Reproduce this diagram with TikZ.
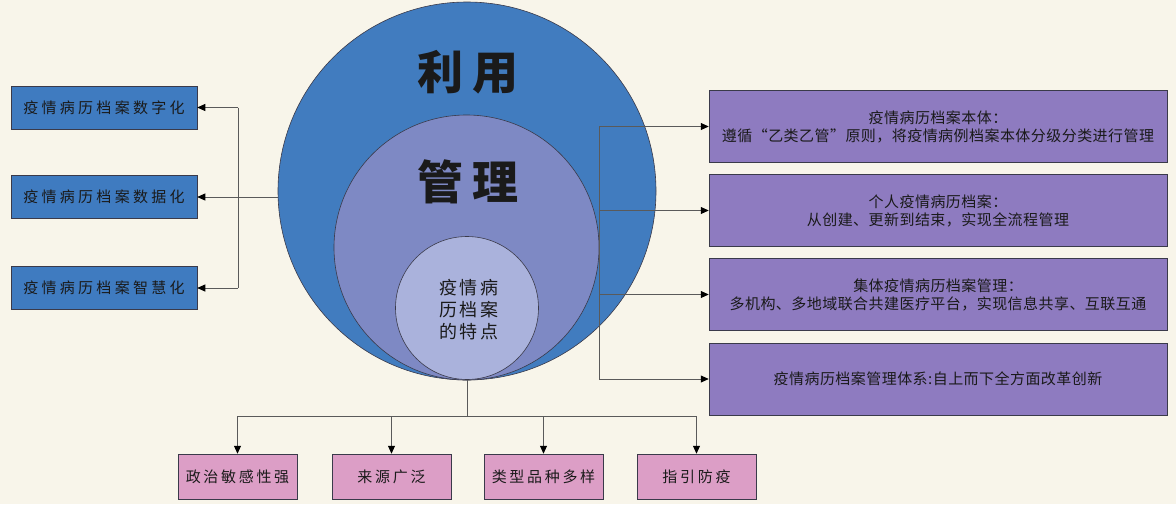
\documentclass[tikz,border=0pt]{standalone}
\usepackage{fontspec}
\setmainfont{Noto Sans CJK SC}
\newfontfamily\cjk{Noto Sans CJK SC}
\usetikzlibrary{arrows.meta}
\definecolor{bgc}{HTML}{F8F5EA}
\definecolor{bigc}{HTML}{417CBF}
\definecolor{midc}{HTML}{7E89C4}
\definecolor{innc}{HTML}{AAB2DC}
\definecolor{lblue}{HTML}{3F7BC0}
\definecolor{purp}{HTML}{8E7BC0}
\definecolor{pinkc}{HTML}{DC9EC6}
\definecolor{linec}{HTML}{5A5A5A}
\definecolor{edgec}{HTML}{3A3A4A}
\definecolor{txtc}{HTML}{1A1A1A}
\begin{document}
\begin{tikzpicture}[x=1pt,y=-1pt,
  every node/.style={font=\cjk, text=txtc},
  circ/.style={circle, draw=edgec, line width=0.6pt, inner sep=0pt},
  lbox/.style={draw=edgec, line width=0.5pt, fill=lblue, minimum width=186pt, minimum height=43pt, inner sep=0pt,
    font=\cjk\fontsize{15}{18}\selectfont\addfontfeature{LetterSpace=22}},
  rbox/.style={draw=edgec, line width=0.5pt, fill=purp, minimum width=458pt, minimum height=72pt, inner sep=0pt, align=center,
    font=\cjk\fontsize{15}{18}\selectfont\addfontfeature{LetterSpace=3}},
  bbox/.style={draw=edgec, line width=0.5pt, fill=pinkc, minimum width=119pt, minimum height=45pt, inner sep=0pt,
    font=\cjk\fontsize{15}{18}\selectfont\addfontfeature{LetterSpace=18}},
  bigtxt/.style={font=\cjk\fontsize{46}{50}\selectfont\bfseries, inner sep=0pt},
  inntxt/.style={font=\cjk\fontsize{18}{22}\selectfont\addfontfeature{LetterSpace=12}, align=center, inner sep=0pt},
  conn/.style={draw=linec, line width=0.8pt},
  arr/.style={conn, -{Triangle[length=8pt,width=7pt,color=black]}}]
\fill[bgc] (0,0) rectangle (1176,504);
\useasboundingbox (0,0) rectangle (1176,504);

% circles
\node[circ, fill=bigc, minimum size=378pt] (big) at (467,191) {};
\node[circ, fill=midc, minimum size=265pt] (mid) at (466.5,247.5) {};
\node[circ, fill=innc, minimum size=143pt] (inn) at (467,308) {};
\node[bigtxt] (t1) at (468,72) {利\hspace{10pt}用};
\node[bigtxt] (t2) at (468,182) {管\hspace{10pt}理};
\node[inntxt] (t3) at (469,310) {疫情病\\历档案\\的特点};

% left boxes
\node[lbox] (l1) at (104,107.5) {疫情病历档案数字化};
\node[lbox] (l2) at (104,197) {疫情病历档案数据化};
\node[lbox] (l3) at (104,288) {疫情病历档案智慧化};

% right boxes
\node[rbox] (r1) at (938,126.5) {疫情病历档案本体：\\遵循“乙类乙管”原则，将疫情病例档案本体分级分类进行管理};
\node[rbox] (r2) at (938,210.5) {个人疫情病历档案：\\从创建、更新到结束，实现全流程管理};
\node[rbox] (r3) at (938,294.5) {集体疫情病历档案管理：\\多机构、多地域联合共建医疗平台，实现信息共享、互联互通};
\node[rbox] (r4) at (938,379) {疫情病历档案管理体系:自上而下全方面改革创新};

% bottom boxes
\node[bbox] (b1) at (237.5,476.5) {政治敏感性强};
\node[bbox] (b2) at (391.5,476.5) {来源广泛};
\node[bbox] (b3) at (543.5,476.5) {类型品种多样};
\node[bbox] (b4) at (696.5,476.5) {指引防疫};

% left connectors
\coordinate (lb) at (238,197);
\draw[arr] (big.west |- l2) -- (l2.east);
\draw[conn] (lb |- l1) -- (lb |- l3);
\draw[arr] (lb |- l1) -- (l1.east);
\draw[arr] (lb |- l3) -- (l3.east);

% right connectors
\coordinate (rb) at (599,247);
\draw[conn] (rb |- r1) -- (rb |- r4);
\foreach \r in {r1,r2,r3,r4} \draw[arr] (rb |- \r) -- (\r.west);

% bottom connectors
\coordinate (bb) at (467,416);
\draw[conn] (inn.south) -- (bb);
\draw[conn] (bb -| b1) -- (bb -| b4);
\foreach \b in {b1,b2,b3,b4} \draw[arr] (bb -| \b) -- (\b.north);
\end{tikzpicture}
\end{document}
